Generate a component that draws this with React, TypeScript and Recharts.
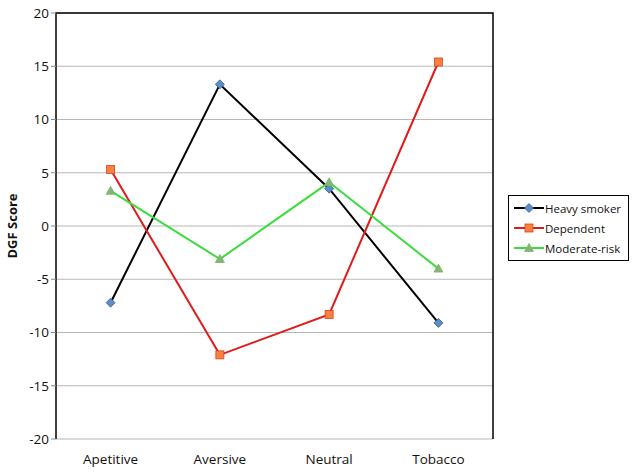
import { LineChart, Line, XAxis, YAxis, CartesianGrid, ReferenceArea } from "recharts";

const categories = ["Apetitive", "Aversive", "Neutral", "Tobacco"];
const heavySmoker = [-7.2, 13.3, 3.5, -9.1];
const dependent = [5.3, -12.1, -8.3, 15.4];
const moderateRisk = [3.3, -3.1, 4.1, -4.0];
const yTicks = [-20, -15, -10, -5, 0, 5, 10, 15, 20];

const data = categories.map((name, i) => ({
  name,
  idx: i + 0.5,
  heavy: heavySmoker[i],
  dependent: dependent[i],
  moderate: moderateRisk[i],
}));

const series = [
  { key: "heavy", label: "Heavy smoker", color: "#000000", marker: "diamond", fill: "#5b8fc9", edge: "#2f5f8f" },
  { key: "dependent", label: "Dependent", color: "#e01b1b", marker: "square", fill: "#f7813f", edge: "#e0401b" },
  { key: "moderate", label: "Moderate-risk", color: "#3ddc3d", marker: "triangle", fill: "#8bb07a", edge: "#6fbf5f" },
];

const font = "'Open Sans', 'Noto Sans', sans-serif";

const Marker = ({ x, y, type, fill, edge }: any) => {
  if (type === "diamond")
    return <polygon points={`${x},${y - 4.5} ${x + 4.5},${y} ${x},${y + 4.5} ${x - 4.5},${y}`} fill={fill} stroke={edge} strokeWidth={0.8} />;
  if (type === "square")
    return <rect x={x - 4} y={y - 4} width={8} height={8} fill={fill} stroke={edge} strokeWidth={0.8} />;
  return <polygon points={`${x},${y - 4.5} ${x + 4.5},${y + 3.5} ${x - 4.5},${y + 3.5}`} fill={fill} stroke={edge} strokeWidth={0.8} />;
};

const LegendBox = () => (
  <div style={{ position: "absolute", left: 508, top: 195, border: "1px solid #000", background: "#fff", width: 119, padding: "2px 0", fontFamily: font, fontSize: 11.5 }}>
    {series.map((s) => (
      <div key={s.key} style={{ display: "flex", alignItems: "center", height: 20 }}>
        <svg width={32} height={12} style={{ marginLeft: 4 }}>
          <line x1={1} y1={6} x2={31} y2={6} stroke={s.color} strokeWidth={2} />
          <Marker x={16} y={6} type={s.marker} fill={s.fill} edge={s.edge} />
        </svg>
        <span style={{ color: "#111" }}>{s.label}</span>
      </div>
    ))}
  </div>
);

const App = () => {
  return (
    <div style={{ position: "absolute", left: 0, top: 0, width: 638, height: 473, background: "#fff" }}>
      <LineChart width={638} height={473} data={data} margin={{ top: 13, right: 145, bottom: 0, left: 0 }}>
        <CartesianGrid vertical={false} stroke="#b8b8b8" strokeWidth={1} />
        {/* plot border: top + right only, bottom stays the gray axis */}
        <ReferenceArea xAxisId="ticks" x1={0} x2={4} y1={-20} y2={20} fill="none" stroke="#000" strokeWidth={1.5} strokeDasharray="863 437 426" />
        <XAxis
          dataKey="name"
          height={34}
          padding={{ left: 54.6, right: 54.6 }}
          axisLine={false}
          tickLine={false}
          tick={{ fontSize: 13.5, fill: "#111", fontFamily: font }}
          tickMargin={9}
        />
        <XAxis
          xAxisId="ticks"
          type="number"
          dataKey="idx"
          domain={[0, 4]}
          ticks={[0, 1, 2, 3, 4]}
          height={0}
          tick={false}
          axisLine={{ stroke: "#888" }}
          tickLine={{ stroke: "#999" }}
          tickSize={5}
        />
        <YAxis
          width={56}
          domain={[-20, 20]}
          ticks={yTicks}
          interval={0}
          axisLine={{ stroke: "#444", strokeWidth: 1.2 }}
          tickLine={{ stroke: "#888" }}
          tickSize={5}
          tick={{ fontSize: 13.5, fill: "#111", fontFamily: font }}
          label={{ value: "DGF Score", angle: -90, position: "insideLeft", offset: 12, style: { fontSize: 13, fontWeight: "bold", fill: "#111", fontFamily: font, textAnchor: "middle" } }}
        />
        {series.map((s) => (
          <Line
            key={s.key}
            dataKey={s.key}
            stroke={s.color}
            strokeWidth={2}
            isAnimationActive={false}
            dot={(p: any) => <Marker key={`${s.key}-${p.index}`} x={p.cx} y={p.cy} type={s.marker} fill={s.fill} edge={s.edge} />}
            activeDot={false}
          />
        ))}
      </LineChart>
      <LegendBox />
    </div>
  );
};

export default App;
